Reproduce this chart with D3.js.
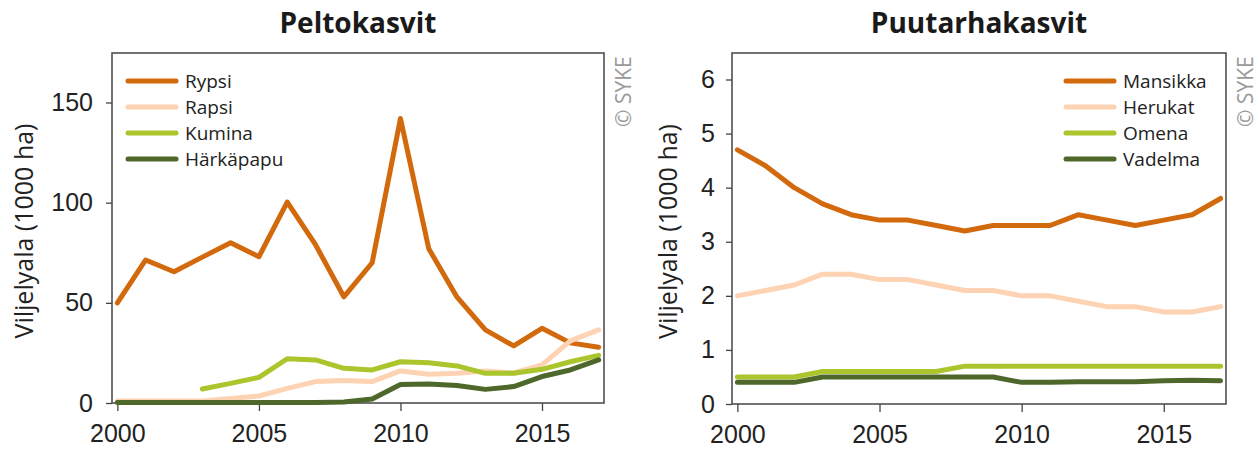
<!DOCTYPE html>
<html>
<head>
<meta charset="utf-8">
<script src="https://cdn.jsdelivr.net/npm/d3@7"></script>
<style>
  body { margin: 0; background: #fff; }
  svg { display: block; font-family: "Open Sans", sans-serif; }
  .tick text { font-size: 25px; fill: #222; }
  .tick line { stroke: #444; stroke-width: 1.3; }
</style>
</head>
<body>
<div id="chart"></div>
<script>
// years on x axis
var years = [2000, 2001, 2002, 2003, 2004, 2005, 2006, 2007, 2008, 2009,
             2010, 2011, 2012, 2013, 2014, 2015, 2016, 2017];
var xTicks = [2000, 2005, 2010, 2015];

// peltokasvit (1000 ha)
var rypsi     = [50, 71.4, 65.5, 72.8, 80, 73, 100.3, 79, 53, 70, 142, 77, 52.8, 36.5, 28.5, 37.3, 30, 27.8];
var rapsi     = [1, 1, 1, 1, 2.2, 3.5, 7.3, 10.7, 11.2, 10.7, 16, 14.3, 14.8, 16, 15, 19, 31, 36.5];
var kumina    = [null, null, null, 7, 9.8, 12.8, 22.1, 21.5, 17.3, 16.5, 20.6, 20.1, 18.5, 14.8, 14.8, 16.8, 20.6, 23.8];
var harkapapu = [0.2, 0.2, 0.2, 0.2, 0.2, 0.2, 0.3, 0.3, 0.5, 2, 9.2, 9.5, 8.7, 6.8, 8.2, 13.2, 16.5, 21.5];

// puutarhakasvit (1000 ha)
var mansikka = [4.7, 4.4, 4.0, 3.7, 3.5, 3.4, 3.4, 3.3, 3.2, 3.3, 3.3, 3.3, 3.5, 3.4, 3.3, 3.4, 3.5, 3.8];
var herukat  = [2.0, 2.1, 2.2, 2.4, 2.4, 2.3, 2.3, 2.2, 2.1, 2.1, 2.0, 2.0, 1.9, 1.8, 1.8, 1.7, 1.7, 1.8];
var omena    = [0.5, 0.5, 0.5, 0.6, 0.6, 0.6, 0.6, 0.6, 0.7, 0.7, 0.7, 0.7, 0.7, 0.7, 0.7, 0.7, 0.7, 0.7];
var vadelma  = [0.4, 0.4, 0.4, 0.5, 0.5, 0.5, 0.5, 0.5, 0.5, 0.5, 0.4, 0.4, 0.41, 0.41, 0.41, 0.43, 0.44, 0.43];

var leftTicks = [0, 50, 100, 150];
var rightTicks = [0, 1, 2, 3, 4, 5, 6];

var colors = ["#d2690c", "#fdd3b3", "#abc52c", "#4d682a"];

var svg = d3.select("#chart").append("svg")
    .attr("width", 1258)
    .attr("height", 450);

function Panel (opt) {
  var x = d3.scaleLinear()
      .domain([1999.81, 2017.19])
      .range([opt.left, opt.right]);
  var y = d3.scaleLinear()
      .domain([0, opt.ymax])
      .range([opt.bottom, opt.top]);

  var g = svg.append("g");

  // title
  g.append("text")
    .attr("x", (opt.left + opt.right) / 2)
    .attr("y", 33)
    .attr("text-anchor", "middle")
    .style("font-size", "28px")
    .style("font-weight", "bold")
    .style("fill", "#1a1a1a")
    .text(opt.title);

  // axes
  var xAxis = g.append("g")
    .attr("transform", "translate(0," + opt.bottom + ")")
    .call(d3.axisBottom(x).tickValues(xTicks).tickFormat(d3.format("d"))
      .tickSize(8).tickPadding(13));
  xAxis.select(".domain").remove();

  var yAxis = g.append("g")
    .attr("transform", "translate(" + opt.left + ",0)")
    .call(d3.axisLeft(y).tickValues(opt.yticks).tickFormat(d3.format("d"))
      .tickSize(6).tickPadding(opt.pad));
  yAxis.select(".domain").remove();

  // frame
  g.append("rect")
    .attr("x", opt.left)
    .attr("y", opt.top)
    .attr("width", opt.right - opt.left)
    .attr("height", opt.bottom - opt.top)
    .attr("fill", "none")
    .attr("stroke", "#444")
    .attr("stroke-width", 1.5);

  // y label
  g.append("text")
    .attr("transform", "translate(" + opt.labelX + "," + ((opt.top + opt.bottom) / 2 + 3) + ") rotate(-90)")
    .attr("text-anchor", "middle")
    .attr("dy", "0.35em")
    .style("font-size", "25px")
    .style("fill", "#222")
    .text("Viljelyala (1000 ha)");

  // copyright
  g.append("text")
    .attr("transform", "translate(" + (opt.right + 20) + ",127) rotate(-90)")
    .attr("text-anchor", "start")
    .attr("dy", "0.35em")
    .style("font-size", "21px")
    .style("fill", "#9a9a9a")
    .text("\u00a9 SYKE");

  var line = d3.line()
      .defined(function (d) { return d != null; })
      .x(function (d, i) { return x(years[i]); })
      .y(function (d) { return y(d); });

  opt.series.forEach(function (s, i) {
    g.append("path")
      .datum(s.values)
      .attr("d", line)
      .attr("fill", "none")
      .attr("stroke", colors[i])
      .attr("stroke-width", 5)
      .attr("stroke-linejoin", "round")
      .attr("stroke-linecap", "round");
  });

  // legend
  var leg = g.selectAll(".leg")
    .data(opt.series)
    .enter().append("g")
    .attr("transform", function (d, i) { return "translate(" + opt.legX + "," + (81 + i * 26) + ")"; });
  leg.append("line")
    .attr("x1", 0).attr("x2", 48)
    .attr("stroke", function (d, i) { return colors[i]; })
    .attr("stroke-width", 5)
    .attr("stroke-linecap", "round");
  leg.append("text")
    .attr("x", 57)
    .attr("dy", "0.35em")
    .style("font-size", "19px")
    .style("fill", "#222")
    .text(function (d) { return d.name; });
}

Panel({
  title: "Peltokasvit",
  left: 112, right: 604, top: 53, bottom: 403,
  ymax: 174.7, yticks: leftTicks, pad: 13, labelX: 24, legX: 128,
  series: [
    {name: "Rypsi", values: rypsi},
    {name: "Rapsi", values: rapsi},
    {name: "Kumina", values: kumina},
    {name: "Härkäpapu", values: harkapapu}
  ]
});

Panel({
  title: "Puutarhakasvit",
  left: 732, right: 1226, top: 53, bottom: 404,
  ymax: 6.49, yticks: rightTicks, pad: 11, labelX: 668, legX: 1066,
  series: [
    {name: "Mansikka", values: mansikka},
    {name: "Herukat", values: herukat},
    {name: "Omena", values: omena},
    {name: "Vadelma", values: vadelma}
  ]
});
</script>
</body>
</html>
